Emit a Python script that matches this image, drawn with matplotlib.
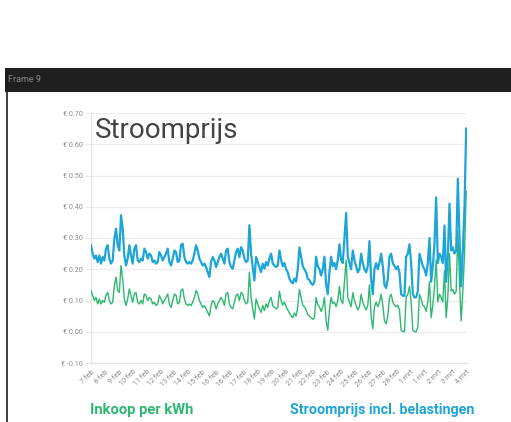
# Third party libraries
import matplotlib
matplotlib.use('Agg')
import matplotlib.patches as patches
import matplotlib.lines as lines
import matplotlib.pyplot as plt
from matplotlib import rcParams
import numpy as np

# Prices, one sample every ~1.7 px (EUR per kWh)
stroomprijs = [
    0.277, 0.250, 0.234, 0.244, 0.223, 0.244, 0.218, 0.239, 0.228, 0.266,
    0.277, 0.234, 0.218, 0.228, 0.298, 0.330, 0.277, 0.260, 0.373, 0.330,
    0.244, 0.212, 0.234, 0.277, 0.244, 0.218, 0.266, 0.277, 0.228, 0.223,
    0.234, 0.228, 0.266, 0.255, 0.234, 0.250, 0.244, 0.223, 0.228, 0.218,
    0.223, 0.255, 0.244, 0.228, 0.239, 0.250, 0.266, 0.223, 0.212, 0.234,
    0.260, 0.255, 0.223, 0.228, 0.277, 0.282, 0.239, 0.223, 0.218, 0.223,
    0.218, 0.228, 0.250, 0.277, 0.260, 0.234, 0.223, 0.212, 0.218, 0.207,
    0.191, 0.175, 0.223, 0.239, 0.228, 0.207, 0.223, 0.239, 0.250, 0.234,
    0.218, 0.260, 0.266, 0.223, 0.207, 0.202, 0.228, 0.255, 0.266, 0.239,
    0.271, 0.260, 0.234, 0.223, 0.228, 0.341, 0.250, 0.207, 0.164, 0.239,
    0.223, 0.207, 0.191, 0.218, 0.202, 0.223, 0.212, 0.234, 0.250, 0.218,
    0.212, 0.207, 0.212,
    0.260, 0.230, 0.210, 0.220, 0.200, 0.190, 0.170, 0.160, 0.155, 0.170,
    0.160, 0.200, 0.270, 0.240, 0.210, 0.200, 0.190, 0.170, 0.165, 0.155,
    0.150, 0.160, 0.240, 0.210, 0.200, 0.180, 0.200, 0.240, 0.150, 0.120,
    0.190, 0.240, 0.210, 0.220, 0.200, 0.230, 0.280, 0.230, 0.220, 0.300,
    0.380, 0.240, 0.220, 0.200, 0.260, 0.230, 0.210, 0.190, 0.200, 0.250,
    0.220, 0.200, 0.190, 0.210, 0.290, 0.170, 0.120, 0.200, 0.220, 0.200,
    0.220, 0.250, 0.210, 0.150, 0.140, 0.170, 0.240, 0.250, 0.220, 0.210,
    0.200, 0.210, 0.190, 0.120, 0.115, 0.115, 0.240, 0.250, 0.280, 0.220,
    0.120, 0.110, 0.110, 0.130, 0.250, 0.230, 0.210, 0.200, 0.180, 0.220,
    0.300, 0.160, 0.210, 0.280, 0.430, 0.220, 0.250, 0.240, 0.220, 0.340,
    0.160, 0.240, 0.410, 0.260, 0.270, 0.250, 0.260, 0.490, 0.300, 0.145,
    0.260, 0.400, 0.650]

inkoop = [
    0.132, 0.116, 0.100, 0.110, 0.089, 0.105, 0.089, 0.100, 0.094, 0.116,
    0.126, 0.100, 0.089, 0.094, 0.148, 0.175, 0.132, 0.126, 0.212, 0.169,
    0.105, 0.084, 0.105, 0.137, 0.116, 0.094, 0.121, 0.126, 0.094, 0.089,
    0.100, 0.089, 0.121, 0.116, 0.100, 0.110, 0.105, 0.089, 0.094, 0.084,
    0.089, 0.116, 0.105, 0.089, 0.100, 0.110, 0.121, 0.089, 0.078, 0.100,
    0.121, 0.116, 0.089, 0.094, 0.132, 0.137, 0.105, 0.089, 0.084, 0.089,
    0.084, 0.094, 0.110, 0.132, 0.121, 0.100, 0.089, 0.078, 0.084, 0.073,
    0.062, 0.051, 0.084, 0.100, 0.094, 0.073, 0.089, 0.100, 0.110, 0.100,
    0.084, 0.121, 0.126, 0.089, 0.078, 0.073, 0.094, 0.116, 0.121, 0.100,
    0.126, 0.121, 0.100, 0.089, 0.094, 0.191, 0.110, 0.073, 0.041, 0.105,
    0.089, 0.073, 0.062, 0.084, 0.068, 0.089, 0.078, 0.100, 0.110, 0.084,
    0.078, 0.073, 0.078,
    0.130, 0.100, 0.085, 0.095, 0.080, 0.070, 0.060, 0.050, 0.045, 0.060,
    0.050, 0.080, 0.135, 0.110, 0.085, 0.080, 0.070, 0.055, 0.050, 0.045,
    0.040, 0.045, 0.110, 0.085, 0.080, 0.065, 0.080, 0.110, 0.035, 0.005,
    0.070, 0.110, 0.090, 0.095, 0.080, 0.100, 0.145, 0.100, 0.090, 0.160,
    0.230, 0.110, 0.095, 0.080, 0.125, 0.100, 0.085, 0.070, 0.080, 0.120,
    0.095, 0.080, 0.070, 0.085, 0.150, 0.050, 0.010, 0.080, 0.095, 0.080,
    0.095, 0.120, 0.085, 0.035, 0.025, 0.050, 0.110, 0.120, 0.095, 0.085,
    0.080, 0.085, 0.070, 0.005, 0.000, 0.000, 0.110, 0.120, 0.145, 0.095,
    0.005, 0.000, 0.000, 0.015, 0.120, 0.105, 0.085, 0.080, 0.065, 0.095,
    0.160, 0.045, 0.085, 0.145, 0.230, 0.095, 0.120, 0.110, 0.095, 0.195,
    0.045, 0.110, 0.250, 0.130, 0.135, 0.120, 0.130, 0.320, 0.160, 0.035,
    0.130, 0.245, 0.450]

dagLabels = ['7 feb', '8 feb', '9 feb', '10 feb', '11 feb', '12 feb',
             '13 feb', '14 feb', '15 feb', '16 feb', '16 feb', '17 feb',
             '18 feb', '19 feb', '20 feb', '21 feb', '22 feb', '23 feb',
             '24 feb', '25 feb', '26 feb', '27 feb', '28 feb', '1 mrt',
             '1 mrt', '2 mrt', '3 mrt', '4 mrt']

yTicks = [-0.10, 0.00, 0.10, 0.20, 0.30, 0.40, 0.50, 0.60, 0.70]

# Colours
blauw = '#1ea5d7'
groen = '#2db872'
grijs = '#8c8c8c'
rasterKleur = '#ececec'

# Fonts
rcParams['font.family'] = ['Roboto', 'DejaVu Sans']

W, H = 511, 422
fig = plt.figure(figsize=(W / 100, H / 100), dpi=100)
fig.patch.set_facecolor('white')

# Dark frame header and left border
header = patches.Rectangle((5 / W, (H - 92) / H), (W - 5) / W, 24 / H,
                           transform=fig.transFigure, facecolor='#1e1e1e',
                           edgecolor='none')
fig.add_artist(header)
rand = lines.Line2D([6.5 / W, 6.5 / W], [0, (H - 92) / H],
                    transform=fig.transFigure, color='#1e1e1e', lw=1.2)
fig.add_artist(rand)
fig.text(8 / W, (H - 80) / H, 'Frame 9', color='#8a8a8a', fontsize=6.5,
         va='center', ha='left')

# Chart
ax = fig.add_axes([91 / W, (H - 363) / H, 376 / W, 250 / H])
x = np.arange(len(stroomprijs))
ax.plot(x, inkoop, color=groen, lw=1.0, zorder=3)
ax.plot(x, stroomprijs, color=blauw, lw=1.6, zorder=4)

ax.set_xlim(0, len(stroomprijs) - 0.5)
ax.set_ylim(-0.10, 0.70)

ax.set_yticks(yTicks)
ax.set_yticklabels(['€ %.2f' % v for v in yTicks])
ax.set_xticks(np.linspace(0, len(stroomprijs) - 1, len(dagLabels)))
ax.set_xticklabels(dagLabels, rotation=45, ha='right', va='top',
                   rotation_mode='anchor')

ax.grid(axis='y', color=rasterKleur, lw=0.9)
ax.set_axisbelow(True)
for s in ['top', 'right']:
    ax.spines[s].set_visible(False)
ax.spines['left'].set_color('#e2e2e2')
ax.spines['bottom'].set_color('#e2e2e2')
ax.spines['left'].set_linewidth(0.8)
ax.spines['bottom'].set_linewidth(0.9)
ax.tick_params(axis='y', length=4, color=rasterKleur, labelsize=5.2,
               labelcolor=grijs, pad=2)
ax.tick_params(axis='x', length=0, labelsize=5.2, labelcolor=grijs, pad=4)

ax.text(0.01, 0.985, 'Stroomprijs', transform=ax.transAxes, ha='left',
        va='top', fontsize=20, color='#444444')

# Legend texts below the chart
fig.text(90 / W, (H - 410) / H, 'Inkoop per kWh', color=groen,
         fontsize=10.6, fontweight='bold', va='center', ha='left')
fig.text(290 / W, (H - 410) / H, 'Stroomprijs incl. belastingen',
         color=blauw, fontsize=10.3, fontweight='bold', va='center', ha='left')

plt.savefig('out.png', dpi=100)
